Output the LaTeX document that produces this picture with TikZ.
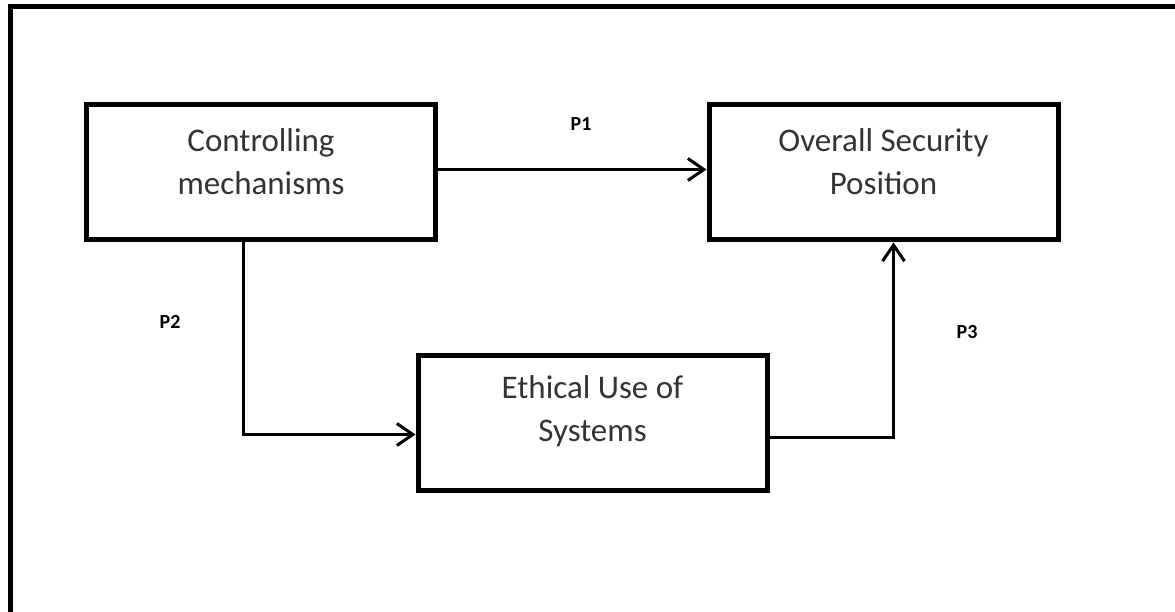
\documentclass[tikz,border=0pt]{standalone}
\usepackage{fontspec}
\setmainfont{Carlito}
\usetikzlibrary{arrows.meta}

\begin{document}
\begin{tikzpicture}[x=1pt,y=-1pt,>={Straight Barb[length=16pt,width=22pt]},
  sbox/.style={draw, line width=5pt, minimum width=349pt, minimum height=135pt},
  btext/.style={align=center, font=\fontsize{33}{43}\selectfont, text=black!80},
  plabel/.style={font=\fontsize{20}{24}\selectfont\bfseries},
  link/.style={->, line width=3pt}]
\useasboundingbox (0,0) rectangle (1175,612);
% frame (only top and left edge show)
\draw[line width=5pt] (1180,6.5) -- (10,6.5) -- (10,620);
% boxes
\node[sbox] (ctrl) at (261,172.5) {};
\node[sbox] (osp) at (883.5,172.5) {};
\node[sbox] (ethic) at (592.5,422.5) {};
\node[btext] (ctrlt) at ([yshift=11pt]ctrl.center) {Controlling\\mechanisms};
\node[btext] (ospt) at ([yshift=11pt]osp.center) {Overall Security\\Position};
\node[btext] (ethict) at ([yshift=11pt]ethic.center) {Ethical Use of\\Systems};
% paths
\draw[link] ([yshift=3pt]ctrl.east) -- ([yshift=3pt]osp.west);
\draw[link] ([xshift=-18pt]ctrl.south) |- ([yshift=-12pt]ethic.west);
\draw[link] ([yshift=-15pt]ethic.east) -| ([xshift=10pt]osp.south);
\node[plabel] (p1) at (581,124) {P1};
\node[plabel] (p2) at (170,322) {P2};
\node[plabel] (p3) at (967,332) {P3};
\end{tikzpicture}
\end{document}
